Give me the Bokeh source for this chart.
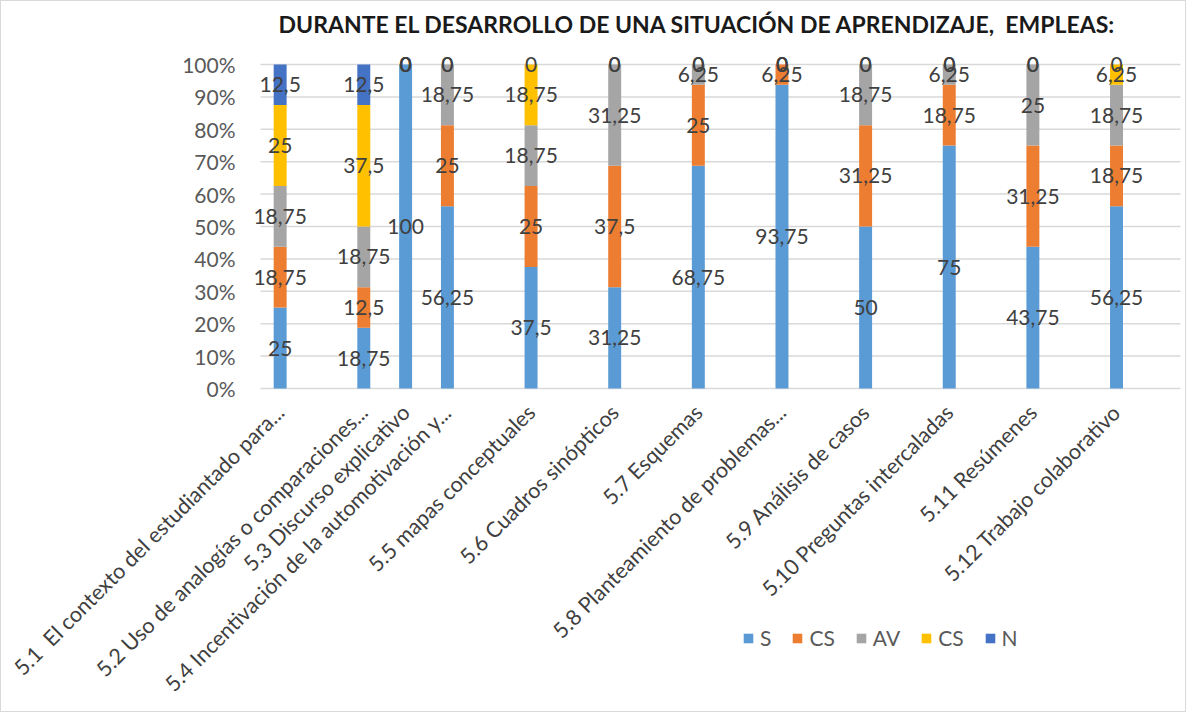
from bokeh.plotting import figure
from bokeh.models import (ColumnDataSource, Range1d, FixedTicker, CustomJSTickFormatter,
                          PrintfTickFormatter, Legend, LegendItem, Label)
from bokeh.core.properties import value
from bokeh.embed import file_html
from bokeh.resources import INLINE
import math

# ---------------- data ----------------
categories = [
    "5.1\u00a0 El contexto del estudiantado para...",
    "5.2 Uso de analogías o comparaciones...",
    "5.3 Discurso explicativo",
    "5.4 Incentivación de la automotivación y...",
    "5.5 mapas conceptuales",
    "5.6 Cuadros sinópticos",
    "5.7 Esquemas",
    "5.8 Planteamiento de problemas...",
    "5.9 Análisis de casos",
    "5.10 Preguntas intercaladas",
    "5.11 Resúmenes",
    "5.12 Trabajo colaborativo",
]
series_names = ["S", "CS", "AV", "CS", "N"]
S   = [25, 18.75, 100, 56.25, 37.5, 31.25, 68.75, 93.75, 50, 75, 43.75, 56.25]
CS  = [18.75, 12.5, 0, 25, 25, 37.5, 25, 6.25, 31.25, 18.75, 31.25, 18.75]
AV  = [18.75, 18.75, 0, 18.75, 18.75, 31.25, 6.25, 0, 18.75, 6.25, 25, 18.75]
CS2 = [25, 37.5, 0, 0, 18.75, 0, 0, 0, 0, 0, 0, 6.25]
N   = [12.5, 12.5, 0, 0, 0, 0, 0, 0, 0, 0, 0, 0]
y_ticks = [0, 10, 20, 30, 40, 50, 60, 70, 80, 90, 100]
title_text = "DURANTE EL DESARROLLO DE UNA SITUACIÓN DE APRENDIZAJE,\u00a0 EMPLEAS:"

# ---------------- layout ----------------
slot_pos = [0, 1, 1.5, 2, 3, 4, 5, 6, 7, 8, 9, 10]   # bar slots on the category axis
colors = ["#5B9BD5", "#ED7D31", "#A5A5A5", "#FFC000", "#4472C4"]
keys = ["S", "CS", "AV", "CS2", "N"]
all_series = [S, CS, AV, CS2, N]

W, H = 1186, 712
PX_L, PX_R, PX_T, PX_B = 259, 1179, 63, 387     # plot area in pixels
N_SLOTS = 11
BAR_OFF = 0.235                                  # bar offset inside a slot
px_per_x = (PX_R - PX_L) / N_SLOTS
px_per_y = (PX_B - PX_T) / 100.0
x_left = -BAR_OFF
x_right = x_left + N_SLOTS
x0 = x_left - PX_L / px_per_x
x1 = x0 + W / px_per_x
y0 = -(H - PX_B) / px_per_y
y1 = PX_B / px_per_y

def xd(px):
    return x0 + px / px_per_x

def yd(py):
    return (PX_B - py) / px_per_y

data = dict(x=slot_pos)
for k, s in zip(keys, all_series):
    data[k] = s
source = ColumnDataSource(data)

p = figure(width=W, height=H, output_backend="svg", toolbar_location=None,
           x_range=Range1d(x0, x1), y_range=Range1d(y0, y1),
           min_border=0, min_border_left=0, min_border_right=0, min_border_top=0, min_border_bottom=0)
p.outline_line_color = None
p.background_fill_color = "white"
p.border_fill_color = "white"
p.styles = {"border": "1px solid #d9d9d9"}
p.xgrid.visible = False
p.ygrid.visible = False

# horizontal gridlines over the plot area
p.segment(x0=[x_left] * len(y_ticks), y0=y_ticks, x1=[x_right] * len(y_ticks), y1=y_ticks,
          line_color="#D9D9D9", line_width=1.5)

renderers = p.vbar_stack(keys, x="x", width=0.155, color=colors, source=source, line_color=None)

# data labels
lx, ly, lt = [], [], []
for i in range(len(categories)):
    base = 0
    for s in all_series:
        v = s[i]
        lx.append(slot_pos[i])
        ly.append(base + v / 2)
        lt.append(("%g" % v).replace(".", ","))
        base += v
lab_src = ColumnDataSource(dict(x=lx, y=ly, t=lt))
p.text(x="x", y="y", text="t", source=lab_src, text_align="center", text_baseline="middle",
       text_font=value("Lato"), text_font_size="21px", text_color="#404040")

# axes
p.yaxis.fixed_location = x_left
p.yaxis.bounds = (0, 100)
p.yaxis.ticker = FixedTicker(ticks=y_ticks)
p.yaxis.formatter = PrintfTickFormatter(format="%d%%")
p.yaxis.major_label_text_font = "Lato"
p.yaxis.major_label_text_font_size = "21px"
p.yaxis.major_label_text_color = "#595959"
p.yaxis.axis_line_color = None
p.yaxis.major_tick_line_color = None
p.yaxis.minor_tick_line_color = None
p.yaxis.major_label_standoff = 19

p.xaxis.fixed_location = 0
p.xaxis.bounds = (x_left, x_right)
p.xaxis.ticker = FixedTicker(ticks=slot_pos)
p.xaxis.formatter = CustomJSTickFormatter(args=dict(labels=categories), code="return labels[index];")
p.xaxis.major_label_orientation = math.pi / 4
p.xaxis.major_label_text_font = "Lato"
p.xaxis.major_label_text_font_size = "21.5px"
p.xaxis.major_label_text_color = "#404040"
p.xaxis.axis_line_color = None
p.xaxis.major_tick_line_color = None
p.xaxis.minor_tick_line_color = None
p.xaxis.major_label_standoff = 14

# title
p.add_layout(Label(x=xd(696), y=yd(22), text=title_text, text_align="center", text_baseline="middle",
                   text_font="Lato", text_font_size="23px", text_font_style="bold",
                   text_color="#1a1a1a"))

# legend
items = [LegendItem(label=n, renderers=[r]) for n, r in zip(series_names, renderers)]
legend = Legend(items=items, orientation="horizontal", location=(741, 63), padding=0, margin=0,
                label_text_font="Lato", label_text_font_size="21px", label_text_color="#595959",
                glyph_width=12, glyph_height=12, spacing=20, label_standoff=6, label_width=0,
                border_line_color=None, background_fill_alpha=0)
p.add_layout(legend, "center")

open("out.html", "w").write(file_html(p, INLINE))
